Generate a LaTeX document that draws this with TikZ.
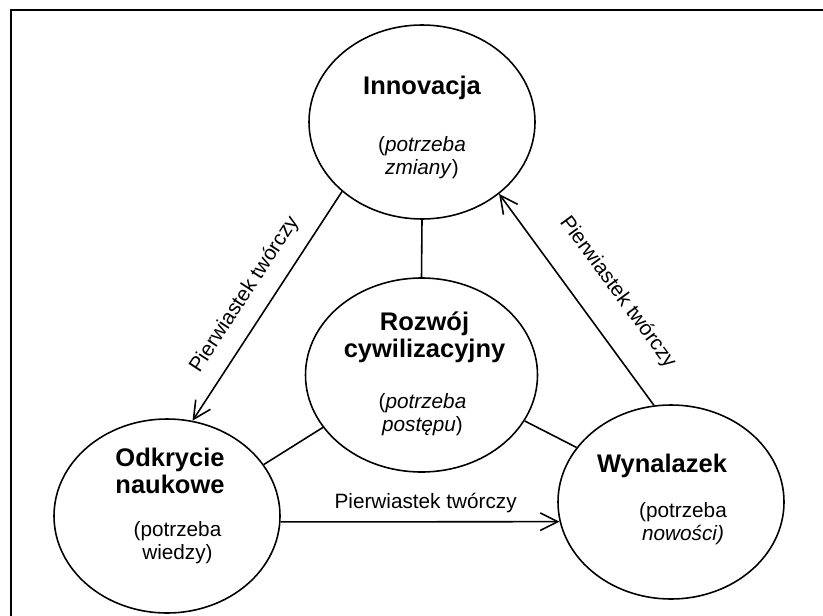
\documentclass[tikz,border=0pt]{standalone}
\usepackage{fontspec}
\setmainfont{Liberation Sans}
\usetikzlibrary{shapes.geometric,arrows.meta}

\begin{document}
\begin{tikzpicture}[
    bubble/.style={ellipse, draw, line width=0.9pt, minimum width=4.52cm, minimum height=3.88cm, inner sep=0pt},
    title/.style={align=center, font=\fontsize{14.5}{15.3}\selectfont\bfseries},
    need/.style={align=center, font=\fontsize{11.8}{13}\selectfont},
    arrow/.style={-{Straight Barb[length=10pt,width=10pt]}, line width=0.9pt},
    link/.style={line width=0.9pt},
    tag/.style={font=\fontsize{11.8}{13}\selectfont}
]
\useasboundingbox (0,0) rectangle (16.46,-12.30);

% Frame
\draw[line width=1.4pt] (0.22,-12.40) -- (0.22,-0.20) -- (16.56,-0.20);

% Circles
\node[bubble] (inn) at (8.44,-2.44) {};
\node[bubble, minimum width=4.64cm] (roz) at (8.43,-7.50) {};
\node[bubble] (odk) at (3.34,-10.32) {};
\node[bubble] (wyn) at (13.42,-10.04) {};

% Texts
\node[title] (innT) at (8.44,-1.75) {Innovacja};
\node[need] (innS) at (8.44,-3.16) {(\textit{potrzeba}\\\textit{zmiany})};
\node[title] (rozT) at (8.49,-6.74) {Rozwój\\cywilizacyjny};
\node[need] (rozS) at (8.45,-8.30) {(\textit{potrzeba}\\\textit{postępu})};
\node[title] (odkT) at (3.40,-9.41) {Odkrycie\\naukowe};
\node[need] (odkS) at (3.55,-10.86) {(potrzeba\\wiedzy)};
\node[title] (wynT) at (13.24,-9.31) {Wynalazek};
\node[need] (wynS) at (13.66,-10.47) {(potrzeba\\\textit{nowości)}};

% Links
\draw[link] (inn.south) -- (roz.north);
\draw[link] (roz.208) -- (odk.28);
\draw[link] (roz.-24) -- (wyn.150);

% Arrows
\draw[arrow] (inn.221) -- node[tag, sloped, above=5pt, pos=0.51] (tagL) {Pierwiastek twórczy} (odk.75);
\draw[arrow] (wyn.100) -- node[tag, sloped, above=12pt, pos=0.43] (tagR) {Pierwiastek twórczy} (inn.-43);
\draw[arrow] (odk.-3) -- node[tag, above=1.5pt, pos=0.52] (tagB) {Pierwiastek twórczy} (wyn.190);

\end{tikzpicture}
\end{document}
